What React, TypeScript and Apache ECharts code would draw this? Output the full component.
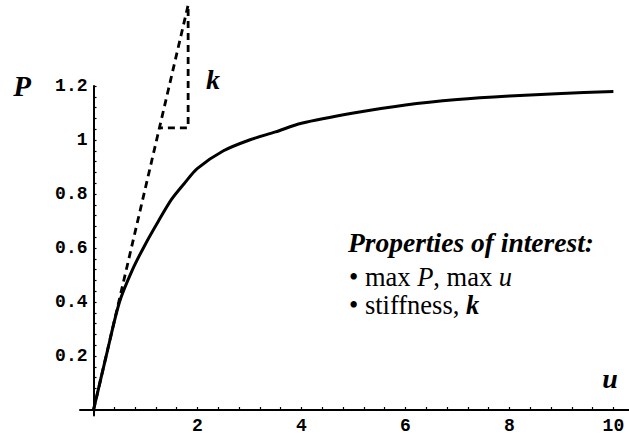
import React, { useEffect, useRef } from "react";
import * as echarts from "echarts";

// Load–displacement curve P(u)
const curveU = [0, 0.25, 0.5, 0.75, 1.0, 1.25, 1.5, 1.75, 2.0, 2.5, 3.0, 3.5, 4.0, 5.0, 6.0, 7.0, 8.0, 9.0, 10.0];
const curveP = [0, 0.205, 0.4, 0.52, 0.615, 0.7, 0.78, 0.84, 0.895, 0.96, 1.0, 1.03, 1.062, 1.1, 1.13, 1.15, 1.163, 1.172, 1.18];

// Initial stiffness tangent with its slope triangle (dashed)
const tangentU = [0, 1.82, 1.82, 1.27];
const tangentP = [0, 1.5, 1.045, 1.045];

// Tick labels
const xTickValues = [2, 4, 6, 8, 10];
const yTickValues = [0.2, 0.4, 0.6, 0.8, 1, 1.2];

// minor tick positions (axis decoration)
const xMinorTicks: number[] = [];
for (let i = 0; i <= 25; i++) xMinorTicks.push(Math.round(i * 0.4 * 100) / 100);
const yMinorTicks: number[] = [];
for (let i = 0; i <= 30; i++) yMinorTicks.push(Math.round(i * 0.04 * 100) / 100);

const serif = '"Liberation Serif", "Times New Roman", serif';
const mono = '"Liberation Mono", "Courier New", monospace';

const X_MIN = -0.26;
const GRID_LEFT = 80;
const GRID_RIGHT = 0;
const WIDTH = 629;
const X_MAX = 10.3;

export default function App() {
  const ref = useRef<HTMLDivElement>(null);

  useEffect(() => {
    document.body.style.margin = "0";
    const chart = echarts.init(ref.current!, null, { renderer: "svg" });
    const labelStyle = {
      fontFamily: mono,
      fontWeight: "bold" as const,
      fontSize: 18,
      color: "#000",
    };
    // shift of the y axis from the grid's left edge to u = 0
    const pxPerUnit = (WIDTH - GRID_LEFT - GRID_RIGHT) / (X_MAX - X_MIN);
    const yAxisShift = -X_MIN * pxPerUnit;
    chart.setOption({
      animation: false,
      backgroundColor: "#fff",
      grid: {
        left: GRID_LEFT,
        right: GRID_RIGHT,
        top: 86,
        bottom: 21.6,
        containLabel: false,
        outerBoundsMode: "none",
      },
      xAxis: {
        type: "value",
        min: X_MIN,
        max: X_MAX,
        splitLine: { show: false },
        axisLine: { onZero: true, lineStyle: { color: "#000", width: 2 } },
        axisTick: {
          show: true,
          inside: true,
          length: 3,
          customValues: xMinorTicks,
          lineStyle: { color: "#000", width: 1.2 },
        },
        axisLabel: {
          ...labelStyle,
          margin: 2,
          customValues: xTickValues,
          formatter: (v: number) => String(v),
        },
      },
      yAxis: {
        type: "value",
        min: -0.02,
        max: 1.2,
        offset: -yAxisShift,
        splitLine: { show: false },
        axisLine: { onZero: false, lineStyle: { color: "#000", width: 2 } },
        axisTick: {
          show: true,
          inside: true,
          length: 3,
          customValues: yMinorTicks,
          lineStyle: { color: "#000", width: 1.2 },
        },
        axisLabel: {
          ...labelStyle,
          margin: 6,
          customValues: yTickValues,
          formatter: (v: number) => String(v),
        },
      },
      series: [
        {
          type: "line",
          data: curveU.map((u, i) => [u, curveP[i]]),
          showSymbol: false,
          symbol: "none",
          smooth: 0.3,
          lineStyle: { color: "#000", width: 3 },
          z: 3,
        },
        {
          type: "line",
          data: tangentU.map((u, i) => [u, tangentP[i]]),
          showSymbol: false,
          symbol: "none",
          clip: false,
          lineStyle: { color: "#000", width: 2.8, type: [7, 5] },
          z: 2,
        },
      ],
      graphic: [
        {
          type: "text",
          x: 22,
          y: 86,
          style: {
            text: "P",
            font: `italic bold 29px ${serif}`,
            fill: "#000",
            align: "center",
            verticalAlign: "middle",
          },
        },
        {
          type: "text",
          x: 213,
          y: 79,
          style: {
            text: "k",
            font: `italic bold 28px ${serif}`,
            fill: "#000",
            align: "center",
            verticalAlign: "middle",
          },
        },
        {
          type: "text",
          x: 610,
          y: 378,
          style: {
            text: "u",
            font: `italic bold 28px ${serif}`,
            fill: "#000",
            align: "center",
            verticalAlign: "middle",
          },
        },
        {
          type: "text",
          x: 348,
          y: 242.5,
          style: {
            text: "Properties of interest:",
            font: `italic bold 27.5px ${serif}`,
            fill: "#000",
            align: "left",
            verticalAlign: "middle",
          },
        },
        {
          type: "text",
          x: 349,
          y: 276.7,
          style: {
            text: "• max {i|P}, max {i|u}",
            font: `26.5px ${serif}`,
            fill: "#000",
            align: "left",
            verticalAlign: "middle",
            rich: {
              i: { fontFamily: serif, fontSize: 26.5, fontStyle: "italic", fill: "#000" },
            },
          },
        },
        {
          type: "text",
          x: 349,
          y: 304.7,
          style: {
            text: "• stiffness, {i|k}",
            font: `26.5px ${serif}`,
            fill: "#000",
            align: "left",
            verticalAlign: "middle",
            rich: {
              i: { fontFamily: serif, fontSize: 26.5, fontStyle: "italic", fontWeight: "bold", fill: "#000" },
            },
          },
        },
      ],
    });
    return () => chart.dispose();
  }, []);

  return <div ref={ref} style={{ width: 629, height: 437 }} />;
}
